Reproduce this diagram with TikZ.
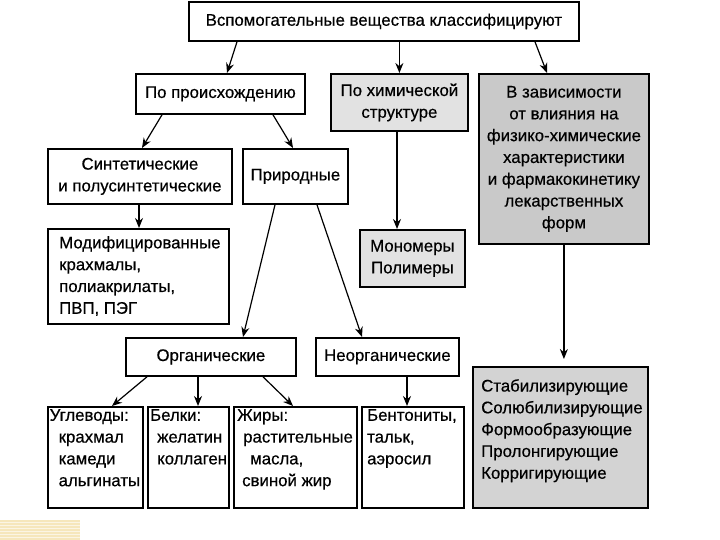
\documentclass[tikz,border=0pt]{standalone}
\usepackage{fontspec}
\setmainfont[FakeBold=0.5]{Liberation Sans}
\usetikzlibrary{arrows.meta,calc}

\newcommand{\boxfont}{\fontsize{16.8}{21.8}\selectfont}
\definecolor{lightgrey}{HTML}{E2E2E2}
\definecolor{midgrey}{HTML}{C9C9C9}
\definecolor{softgrey}{HTML}{D3D3D3}
\definecolor{cream}{HTML}{F6E7BC}

\begin{document}
\begin{tikzpicture}[x=1pt, y=-1pt,
    blk/.style={draw, line width=1.8pt, anchor=north west, inner sep=0pt, align=center, font=\boxfont},
    txt/.style={anchor=north west, inner sep=0pt, align=left, font=\boxfont},
    arr/.style={-{Stealth[length=10pt, width=8pt]}, line width=1.2pt}]
    \useasboundingbox (0,0) rectangle (720,540);
    % Kopfzeile
    \node[blk, minimum width=390pt, minimum height=39pt] (top) at (188,1) {Вспомогательные вещества классифицируют};
    % Ebene 1
    \node[blk, minimum width=169pt, minimum height=40pt] (orig) at (135,73) {По происхождению};
    \node[blk, fill=lightgrey, minimum width=137pt, minimum height=57pt] (chem) at (330,73) {По химической\\структуре};
    \node[blk, fill=midgrey, minimum width=170pt, minimum height=170pt] (dep) at (478,73)
        {В зависимости\\от влияния на\\физико-химические\\характеристики\\и фармакокинетику\\лекарственных\\форм};
    % Ebene 2
    \node[blk, minimum width=184pt, minimum height=55pt] (syn) at (47,148) {Синтетические\\и полусинтетические};
    \node[blk, minimum width=105pt, minimum height=55pt] (nat) at (242,148) {Природные};
    \node[blk, minimum width=181pt, minimum height=95pt] (mod) at (47,228) {};
    \node[txt] (modtxt) at ($(mod.north west)+(12,8)$) {Модифицированные\\крахмалы,\\полиакрилаты,\\ПВП, ПЭГ};
    \node[blk, fill=lightgrey, minimum width=105pt, minimum height=57pt] (mono) at (359,229) {Мономеры\\Полимеры};
    % Ebene 3
    \node[blk, minimum width=170pt, minimum height=38pt] (org) at (125,337) {Органические};
    \node[blk, minimum width=143pt, minimum height=38pt] (inorg) at (315,337) {Неорганические};
    \node[blk, fill=softgrey, minimum width=175pt, minimum height=141pt] (prop) at (472,366) {};
    \node[txt] (proptxt) at ($(prop.north west)+(9,13)$)
        {Стабилизирующие\\Солюбилизирующие\\Формообразующие\\Пролонгирующие\\Корригирующие};
    % Ebene 4
    \node[blk, minimum width=95pt, minimum height=101pt] (carb) at (47,406) {};
    \node[txt] (carbtxt) at ($(carb.north west)+(2.5,3)$)
        {Углеводы:\\\hspace*{9pt}крахмал\\\hspace*{9pt}камеди\\\hspace*{9pt}альгинаты};
    \node[blk, minimum width=81pt, minimum height=101pt] (prot) at (147,406) {};
    \node[txt] (prottxt) at ($(prot.north west)+(3,3)$)
        {Белки:\\\hspace*{7pt}желатин\\\hspace*{7pt}коллаген};
    \node[blk, minimum width=123pt, minimum height=101pt] (fat) at (233,406) {};
    \node[txt] (fattxt) at ($(fat.north west)+(4,3)$)
        {Жиры:\\\hspace*{6pt}растительные\\\hspace*{13pt}масла,\\\hspace*{5pt}свиной жир};
    \node[blk, minimum width=102pt, minimum height=101pt] (bent) at (361,406) {};
    \node[txt] (benttxt) at ($(bent.north west)+(6,3)$) {Бентониты,\\тальк,\\аэросил};
    % Pfeile
    \draw[arr] ($(top.south west)+(49,0)$) -- ($(orig.north west)+(92,0)$);
    \draw[arr] (chem.north |- top.south) -- (chem.north);
    \draw[arr] ($(top.south west)+(347,0)$) -- ($(dep.north west)+(69,0)$);
    \draw[arr] ($(orig.south west)+(27,0)$) -- ($(syn.north west)+(95,0)$);
    \draw[arr] ($(orig.south west)+(138,0)$) -- ($(nat.north west)+(51,0)$);
    \draw[arr] ($(syn.south west)+(92,0)$) -- ($(mod.north west)+(92,0)$);
    \draw[arr] ($(chem.south west)+(67,0)$) -- ($(mono.north west)+(38,0)$);
    \draw[arr, shorten >=7pt] (dep.south) -- (dep.south |- prop.north);
    \draw[arr] ($(nat.south west)+(33,0)$) -- ($(org.north west)+(118,0)$);
    \draw[arr] ($(nat.south west)+(75,0)$) -- ($(inorg.north west)+(47,0)$);
    \draw[arr] ($(org.south west)+(22,0)$) -- ($(carb.north west)+(65,0)$);
    \draw[arr] ($(org.south west)+(73,0)$) -- ($(prot.north west)+(51,0)$);
    \draw[arr] ($(org.south west)+(138,0)$) -- ($(fat.north west)+(60,0)$);
    \draw[arr] ($(inorg.south west)+(92,0)$) -- ($(bent.north west)+(46,0)$);
    % Zierstreifen unten links
    \fill[cream] (0,520) rectangle (80,540);
    \foreach \k in {0,...,6}
        \fill[cream!40] (0,521.5+3*\k) rectangle (80,522.5+3*\k);
\end{tikzpicture}
\end{document}
